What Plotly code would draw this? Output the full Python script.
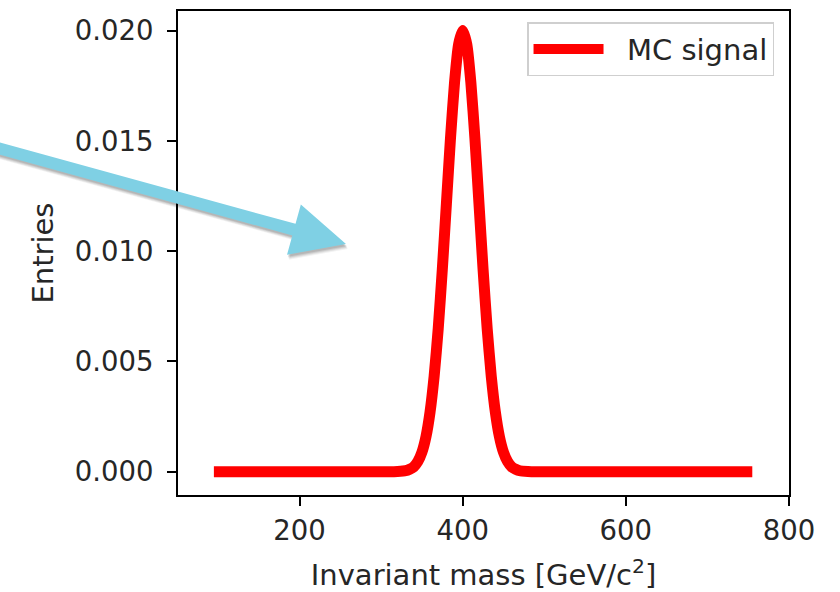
import numpy as np
import plotly.graph_objects as go

# Invariant mass sampling points [GeV/c^2] and the MC signal shape (entries)
mass = [95, 150, 200, 250, 300, 310, 320, 330, 335, 340, 345, 350, 355, 360,
        365, 370, 375, 380, 385, 390, 395, 400, 405, 410, 415, 420, 425, 430,
        435, 440, 445, 450, 455, 460, 465, 470, 480, 490, 500, 550, 600, 650,
        700, 755]
entries = [0.0, 0.0, 0.0, 0.0, 0.0, 0.0, 0.00001, 0.00004, 0.00011, 0.00022,
           0.00046, 0.00088, 0.00159, 0.00271, 0.00433, 0.00649, 0.00916,
           0.01213, 0.01510, 0.01765, 0.01938, 0.02000, 0.01938, 0.01765,
           0.01510, 0.01213, 0.00916, 0.00649, 0.00433, 0.00271, 0.00159,
           0.00088, 0.00046, 0.00022, 0.00011, 0.00004, 0.00001, 0.0, 0.0,
           0.0, 0.0, 0.0, 0.0, 0.0]

x_ticks = [200, 400, 600, 800]
y_ticks = [0.000, 0.005, 0.010, 0.015, 0.020]
y_tick_labels = ["0.000", "0.005", "0.010", "0.015", "0.020"]

W, H = 840, 592
L, R, T, B = 178, 51, 11, 97

FONT = "DejaVu Sans"
TEXT = "#262626"

fig = go.Figure()
fig.add_trace(go.Scatter(
    x=mass, y=entries, mode="lines", name="\u00a0\u00a0MC signal",
    line=dict(color="#ff0000", width=11, shape="spline", smoothing=0.6,
              simplify=False),
))


def to_paper(px, py):
    """Convert page pixels to paper coordinates of the plot area."""
    pw = W - L - R
    ph = H - T - B
    return (px - L) / pw, (H - B - py) / ph


def arrow_path(tail, tip, shaft_half, head_len, head_half, dx=0.0, dy=0.0):
    tail = np.array(tail, float) + [dx, dy]
    tip = np.array(tip, float) + [dx, dy]
    d = tip - tail
    u = d / np.hypot(*d)
    n = np.array([-u[1], u[0]])
    base = tip - head_len * u
    pts = [tail + shaft_half * n, base + shaft_half * n, base + head_half * n,
           tip, base - head_half * n, base - shaft_half * n, tail - shaft_half * n]
    coords = [to_paper(*p) for p in pts]
    return "M " + " L ".join(f"{x:.5f},{y:.5f}" for x, y in coords) + " Z"


shapes = []
# soft drop shadow under the pointer arrow
for off, alpha in [(5, 0.05), (4, 0.07), (3, 0.09), (2, 0.10)]:
    shapes.append(dict(
        type="path", xref="paper", yref="paper", layer="above",
        path=arrow_path((-12, 145.3), (346, 244), 6, 54, 26, dx=off * 0.4, dy=off),
        fillcolor=f"rgba(0,0,0,{alpha})", line=dict(width=0),
    ))
shapes.append(dict(
    type="path", xref="paper", yref="paper", layer="above",
    path=arrow_path((-12, 145.3), (346, 244), 6, 54, 26),
    fillcolor="rgb(127,208,228)", line=dict(width=0),
))

axis_common = dict(
    showline=True, mirror=True, linecolor="black", linewidth=2,
    ticks="outside", ticklen=9, tickwidth=2, tickcolor="black",
    showgrid=False, zeroline=False, automargin=False,
    tickfont=dict(family=FONT, size=27.5, color=TEXT),
)

fig.update_layout(
    width=W, height=H,
    margin=dict(l=L, r=R, t=T, b=B, pad=0, autoexpand=False),
    paper_bgcolor="white", plot_bgcolor="white",
    font=dict(family=FONT, color=TEXT),
    xaxis=dict(
        range=[51, 800], tickvals=x_ticks,
        title=dict(text="Invariant mass [GeV/c<sup>2</sup>]",
                   font=dict(family=FONT, size=29, color=TEXT), standoff=23),
        ticklabelstandoff=1,
        **axis_common,
    ),
    yaxis=dict(
        range=[-0.00106, 0.02089], tickvals=y_ticks, ticktext=y_tick_labels,
        title=dict(text="Entries",
                   font=dict(family=FONT, size=29, color=TEXT), standoff=13),
        ticklabelstandoff=8,
        **axis_common,
    ),
    showlegend=True,
    legend=dict(
        x=0.9755, y=0.977, xanchor="right", yanchor="top",
        bgcolor="white", bordercolor="#cfcfcf", borderwidth=1.5,
        font=dict(family=FONT, size=29, color=TEXT),
        itemwidth=70,
    ),
    shapes=shapes,
)

fig.write_html("out.html")
